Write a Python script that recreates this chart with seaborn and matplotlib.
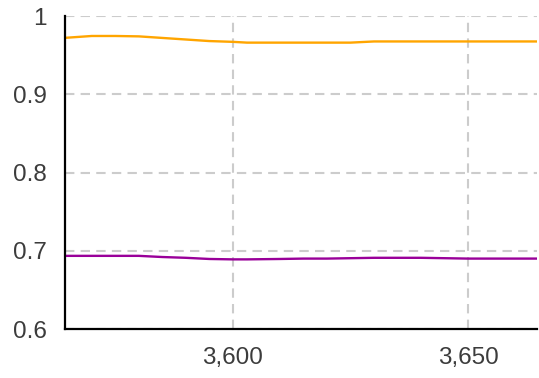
import numpy as np
import pandas as pd
import seaborn as sns
import matplotlib.pyplot as plt
from matplotlib.ticker import FuncFormatter, FixedLocator

# values
steps = [3564, 3570, 3575, 3580, 3585, 3590, 3595, 3600, 3603, 3610, 3615, 3620, 3625, 3630, 3635, 3640, 3645, 3650, 3655, 3660, 3665]
orange = [0.972, 0.9745, 0.9745, 0.974, 0.972, 0.970, 0.968, 0.967, 0.966, 0.966, 0.966, 0.966, 0.966, 0.9675, 0.9675, 0.9675, 0.9675, 0.9675, 0.9675, 0.9675, 0.9675]
purple = [0.6935, 0.6935, 0.6935, 0.6935, 0.692, 0.691, 0.6895, 0.689, 0.689, 0.6895, 0.690, 0.690, 0.6905, 0.691, 0.691, 0.691, 0.6905, 0.690, 0.690, 0.690, 0.690]

df = pd.DataFrame({
    "step": steps * 2,
    "value": orange + purple,
    "series": ["a"] * len(steps) + ["b"] * len(steps),
})

sns.set_style("white")
plt.rcParams['font.family'] = ['Liberation Sans', 'DejaVu Sans']

fig = plt.figure(figsize=(5.39, 3.78), dpi=100)
ax = fig.add_axes([0.1206, 0.1296, 0.876, 0.828])

sns.lineplot(data=df, x="step", y="value", hue="series",
             palette={"a": "#ffa500", "b": "#990099"},
             linewidth=1.7, legend=False, ax=ax)

ax.set_xlim(3564.3, 3664.7)
ax.set_ylim(0.6, 1.0)
ax.xaxis.set_major_locator(FixedLocator([3600, 3650]))
ax.yaxis.set_major_locator(FixedLocator([0.6, 0.7, 0.8, 0.9, 1.0]))
ax.xaxis.set_major_formatter(FuncFormatter(lambda v, p: f"{v:,.0f}"))
ax.yaxis.set_major_formatter(FuncFormatter(lambda v, p: f"{v:g}"))

ax.grid(True, color="#cccccc", linestyle=(0, (4.5, 3)), linewidth=1.5)
ax.set_axisbelow(True)
ax.tick_params(axis="both", length=7, width=1.5, color="#cccccc",
               labelsize=17.5, labelcolor="#3c3c3c", pad=6)
for side in ["top", "right"]:
    ax.spines[side].set_visible(False)
for side in ["left", "bottom"]:
    ax.spines[side].set_color("black")
    ax.spines[side].set_linewidth(1.6)
ax.set_xlabel("")
ax.set_ylabel("")

fig.savefig("out.png", dpi=100)
